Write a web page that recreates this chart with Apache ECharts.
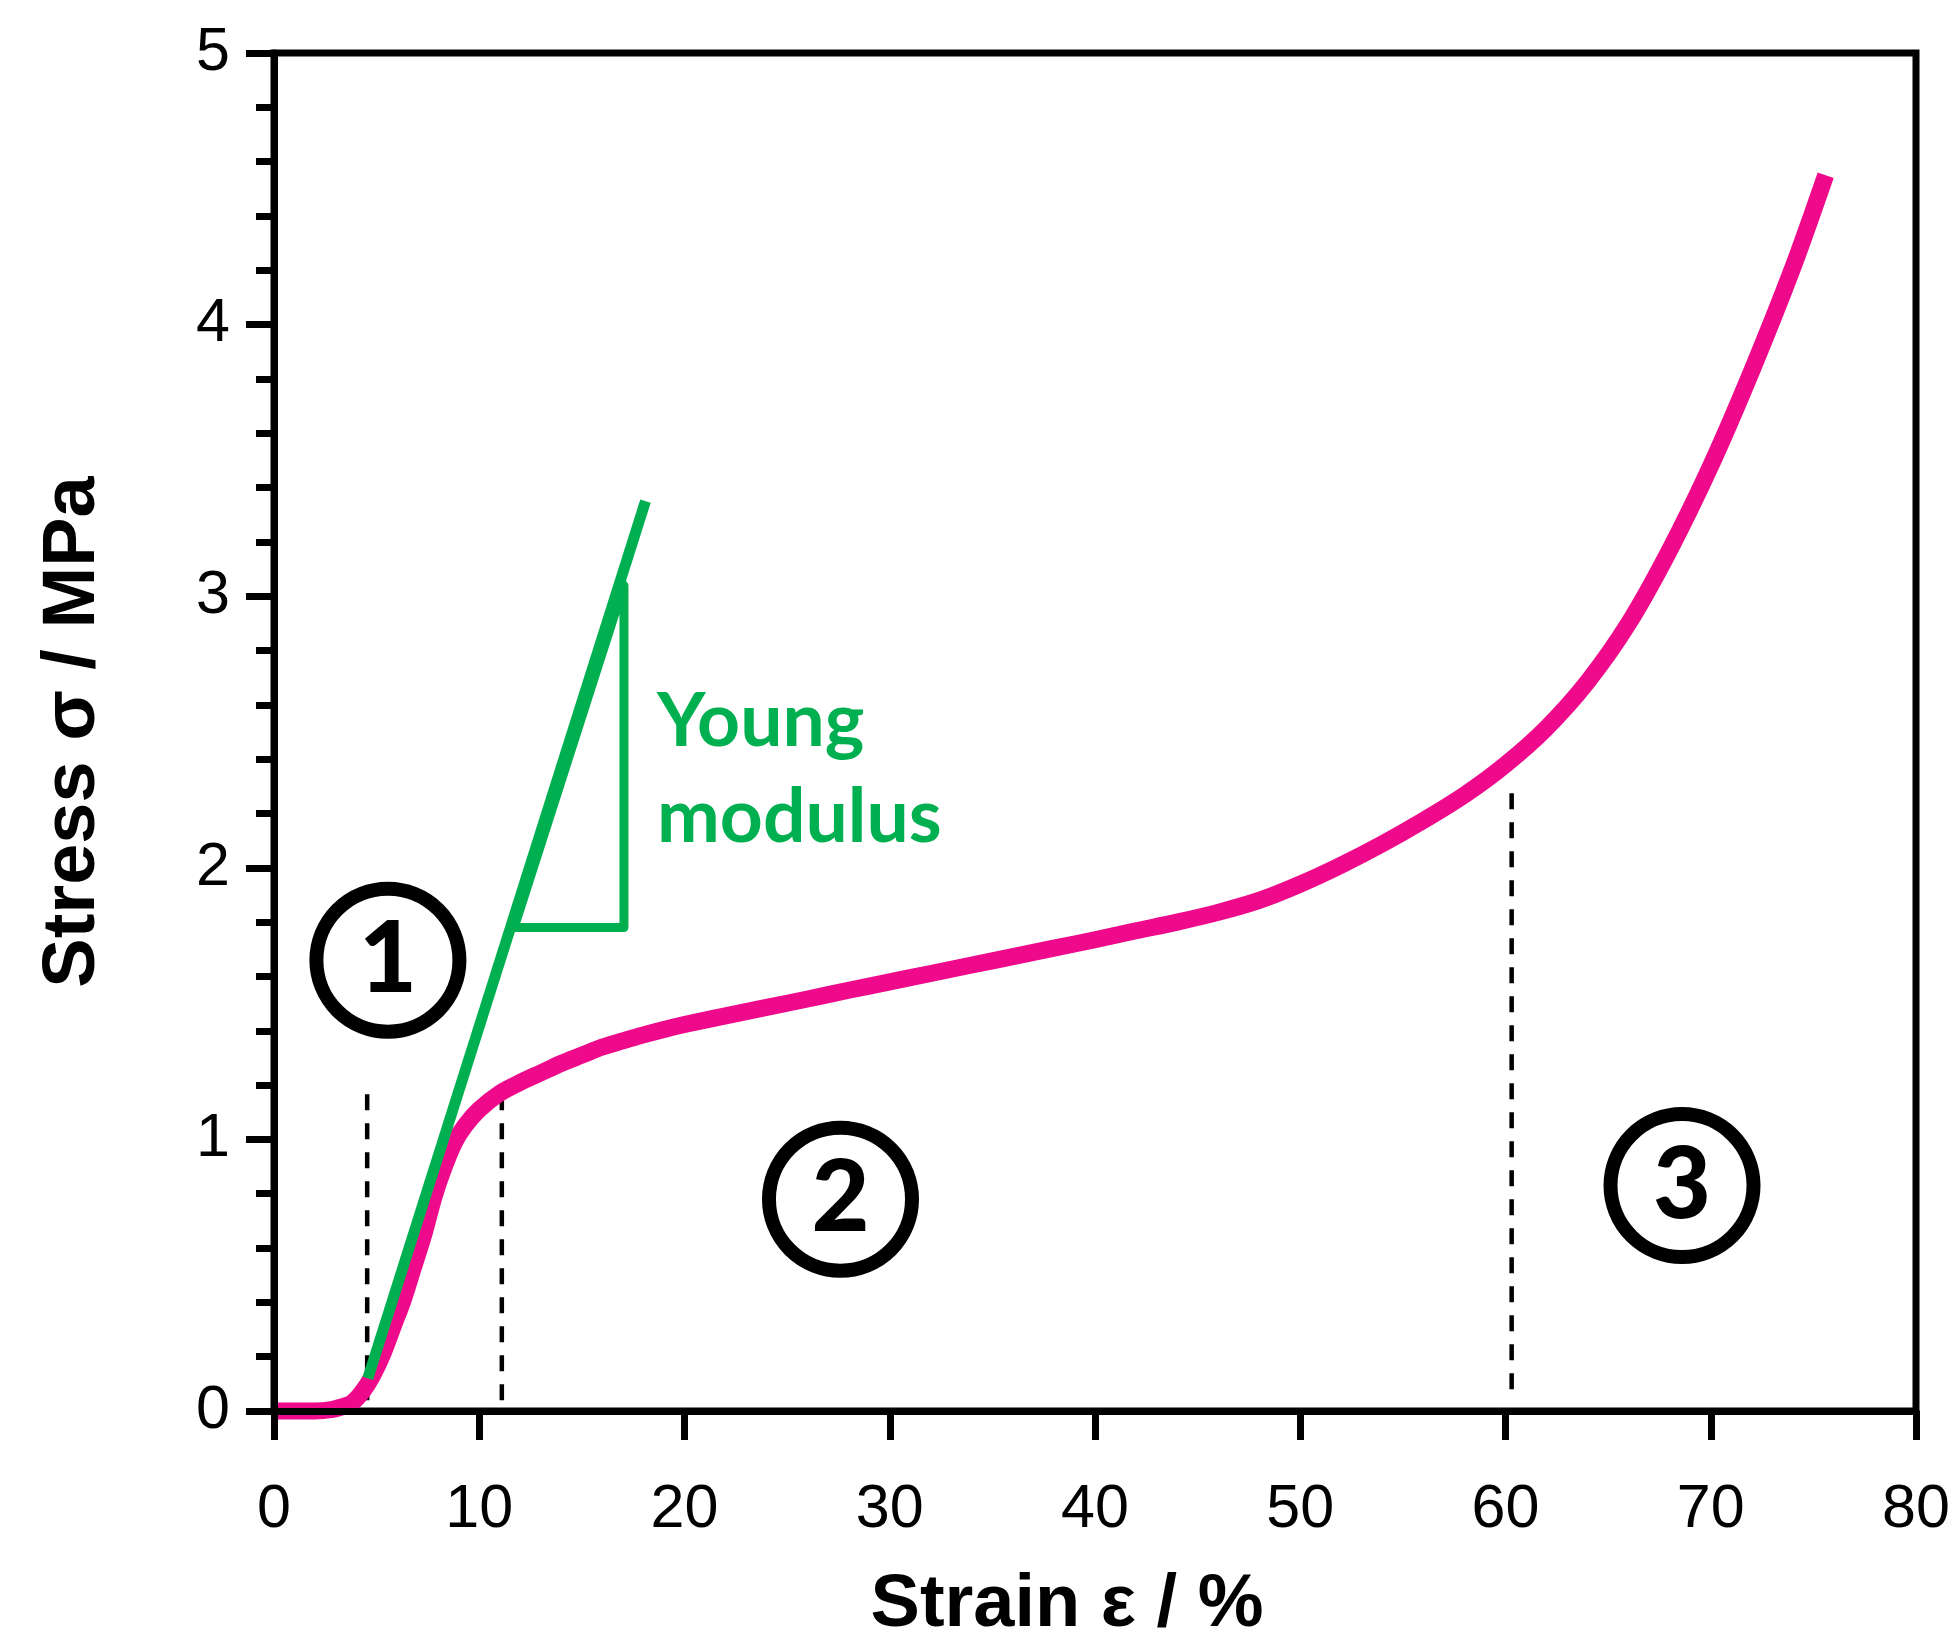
<!DOCTYPE html>
<html>
<head>
<meta charset="utf-8">
<script src="https://cdn.jsdelivr.net/npm/echarts@6/dist/echarts.min.js"></script>
<style>
html,body{margin:0;padding:0;background:#fff;}
#c{width:1954px;height:1636px;}
</style>
</head>
<body>
<div id="c"></div>
<script>
// ---- data ----
const strain = [0,1,2,2.8,3.3,3.8,4.3,4.8,5.3,5.8,6.3,6.8,7.3,7.8,8.3,8.8,9.3,10,11,12,13,14,15,16,17,18,19,20,22,24,26,28,30,32,34,36,38,40,42,44,46,48,50,52,54,56,58,60,62,64,66,68,70,72,74,75.6];
const stress = [0,0,0,0.005,0.015,0.03,0.07,0.13,0.21,0.31,0.41,0.53,0.65,0.79,0.9,0.99,1.05,1.11,1.17,1.21,1.245,1.28,1.31,1.34,1.363,1.385,1.405,1.423,1.455,1.486,1.517,1.549,1.58,1.611,1.642,1.673,1.704,1.735,1.768,1.80,1.836,1.88,1.94,2.01,2.088,2.174,2.268,2.38,2.515,2.685,2.90,3.17,3.48,3.83,4.21,4.55];

const youngStrain = [4.57, 18.1];
const youngStress = [0.12, 3.35];

const triStrain = [11.7, 17.05, 17.05, 11.7];
const triStress = [1.78, 1.78, 3.04, 1.78];

const dividerStrain = [4.54, 11.1, 60.3];
const dividerBottom = [0.04, 0.04, 0.08];
const dividerTop = [1.17, 1.17, 2.29];

const regionNames = ['1', '2', '3'];
const regionStrain = [5.55, 27.6, 68.6];
const regionStress = [1.66, 0.78, 0.83];

const youngText = 'Young\nmodulus';
const youngTextPos = [18.66, 2.36];

const xTickLabels = ['0','10','20','30','40','50','60','70','80'];
const yTickLabels = ['0','1','2','3','4','5'];

// ---- chart ----
const chart = echarts.init(document.getElementById('c'), null, {renderer: 'canvas'});

const black = '#000000';
const magenta = '#EE0A8B';
const green = '#00B050';

const series = [];

dividerStrain.forEach((x, i) => {
  series.push({
    type: 'line', silent: true, showSymbol: false, symbol: 'none', clip: false, z: 1,
    data: [[x, dividerBottom[i]], [x, dividerTop[i]]],
    lineStyle: {color: black, width: 4.5, type: [16, 13]}
  });
});

series.push({
  type: 'line', silent: true, showSymbol: false, symbol: 'none', clip: false, z: 3,
  data: strain.map((x, i) => [x, stress[i]]),
  smooth: 0.3,
  lineStyle: {color: magenta, width: 17, cap: 'butt', join: 'round'}
});

series.push({
  type: 'line', silent: true, showSymbol: false, symbol: 'none', clip: false, z: 4,
  data: youngStrain.map((x, i) => [x, youngStress[i]]),
  lineStyle: {color: green, width: 11, cap: 'butt'}
});

series.push({
  type: 'line', silent: true, showSymbol: false, symbol: 'none', clip: false, z: 4,
  data: triStrain.map((x, i) => [x, triStress[i]]),
  lineStyle: {color: green, width: 9, cap: 'round', join: 'round'}
});

series.push({
  type: 'scatter', silent: true, z: 5, clip: false,
  symbol: 'circle', symbolSize: 143,
  data: regionNames.map((n, i) => ({name: n, value: [regionStrain[i], regionStress[i]]})),
  itemStyle: {color: 'rgba(255,255,255,0)', borderColor: black, borderWidth: 14, opacity: 1},
  label: {
    show: true, position: 'inside', formatter: p => p.name,
    fontFamily: 'Lato', fontWeight: 900, fontSize: 100, color: black, opacity: 1
  }
});

series.push({
  type: 'scatter', silent: true, z: 5, clip: false,
  symbolSize: 0,
  itemStyle: {opacity: 1},
  data: [{name: youngText, value: youngTextPos}],
  label: {
    show: true, position: 'right', distance: 0, formatter: p => p.name,
    fontFamily: 'Lato', fontWeight: 'bold', fontSize: 75, lineHeight: 96,
    color: green, align: 'left', opacity: 1
  }
});

chart.setOption({
  animation: false,
  backgroundColor: '#ffffff',
  grid: {
    left: 274, right: 38, top: 53, bottom: 225,
    containLabel: false, outerBoundsMode: 'none',
    show: true, borderColor: black, borderWidth: 7, backgroundColor: 'transparent'
  },
  xAxis: {
    type: 'value', min: 0, max: 80, interval: 10, z: 10,
    name: 'Strain ε / %', nameLocation: 'middle', nameGap: 158,
    nameTextStyle: {fontFamily: 'Liberation Sans', fontWeight: 'bold', fontSize: 74, color: black, padding: [0, 56, 0, 0]},
    axisLine: {show: true, lineStyle: {color: black, width: 7}},
    axisTick: {show: true, length: 29, lineStyle: {color: black, width: 7}},
    axisLabel: {
      fontFamily: 'Liberation Sans', fontSize: 61, color: black, margin: 69,
      formatter: (v) => xTickLabels[Math.round(v / 10)]
    },
    splitLine: {show: false}
  },
  yAxis: {
    type: 'value', min: 0, max: 5, interval: 1, z: 10,
    name: 'Stress σ / MPa', nameLocation: 'middle', nameGap: 163,
    nameTextStyle: {fontFamily: 'Liberation Sans', fontWeight: 'bold', fontSize: 74, color: black},
    axisLine: {show: true, lineStyle: {color: black, width: 7}},
    axisTick: {show: true, length: 28, lineStyle: {color: black, width: 7}},
    minorTick: {show: true, splitNumber: 5, length: 18, lineStyle: {color: black, width: 7}},
    axisLabel: {
      fontFamily: 'Liberation Sans', fontSize: 61, color: black, margin: 44,
      formatter: (v) => yTickLabels[Math.round(v)]
    },
    splitLine: {show: false}
  },
  series: series
});
</script>
</body>
</html>
